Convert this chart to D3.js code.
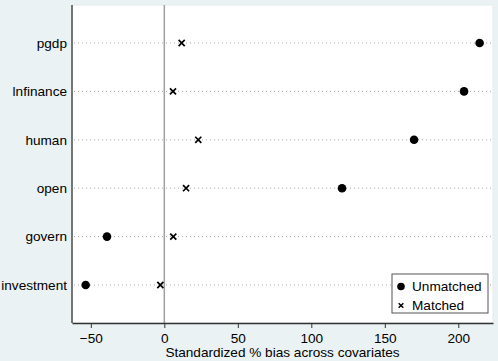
<!DOCTYPE html>
<html>
<head>
<meta charset="utf-8">
<script src="https://cdn.jsdelivr.net/npm/d3@7"></script>
<style>
    body { margin: 0; background: #eaf2f3; }
    svg { display: block; }
    text { font-family: "Liberation Sans", Arial, sans-serif; fill: #000; }
</style>
</head>
<body>
<svg id="chart" width="498" height="361"></svg>
<script>
// covariates, top to bottom
var covariates = ['pgdp', 'lnfinance', 'human', 'open', 'govern', 'investment'];
var unmatched = [214.5, 203.9, 169.9, 120.9, -39.0, -53.5];
var matched = [11.8, 5.9, 23.1, 14.8, 6.1, -2.7];
var xTicks = [-50, 0, 50, 100, 150, 200];

var width = 498;
var height = 361;
var margin = { left: 72, right: 5, top: 5, bottom: 38 };
var fontSize = '13.6px';

var svg = d3.select('#chart');

svg.append('rect')
    .attr('width', width)
    .attr('height', height)
    .attr('fill', '#eaf2f3');

var x = d3.scaleLinear()
    .domain([-62.8, 223.6])
    .range([margin.left, width - margin.right]);

var y = d3.scalePoint()
    .domain(covariates)
    .range([margin.top, height - margin.bottom])
    .padding(0.785);

// plot region
svg.append('rect')
    .attr('x', margin.left)
    .attr('y', margin.top)
    .attr('width', width - margin.left - margin.right)
    .attr('height', height - margin.top - margin.bottom)
    .attr('fill', '#fff')
    .attr('stroke', '#e2ecee')
    .attr('stroke-width', 1);

// dotted row lines
svg.append('g')
    .selectAll('line')
    .data(covariates)
    .enter()
    .append('line')
    .attr('x1', margin.left + 2)
    .attr('x2', width - margin.right)
    .attr('y1', function (d) { return y(d); })
    .attr('y2', function (d) { return y(d); })
    .attr('stroke', '#a8a8a8')
    .attr('stroke-width', 1)
    .attr('stroke-dasharray', '1,3');

// zero line
svg.append('line')
    .attr('x1', x(0))
    .attr('x2', x(0))
    .attr('y1', margin.top)
    .attr('y2', height - margin.bottom)
    .attr('stroke', '#a0a0a0')
    .attr('stroke-width', 1.5);

// x axis
var xAxis = svg.append('g')
    .attr('transform', 'translate(0,' + (height - margin.bottom) + ')')
    .call(d3.axisBottom(x).tickValues(xTicks).tickSize(5).tickPadding(5).tickSizeOuter(0));
xAxis.select('.domain').attr('stroke', '#333').attr('stroke-width', 1.3);
xAxis.selectAll('.tick line').attr('stroke', '#333');
xAxis.selectAll('.tick text')
    .style('font-family', '"Liberation Sans", Arial, sans-serif')
    .style('font-size', fontSize)
    .attr('fill', '#000');

// y axis
var yAxis = svg.append('g')
    .attr('transform', 'translate(' + margin.left + ',0)')
    .call(d3.axisLeft(y).tickSize(0).tickPadding(5));
yAxis.select('.domain')
    .attr('d', 'M0,' + margin.top + 'V' + (height - margin.bottom))
    .attr('stroke', '#333')
    .attr('stroke-width', 1.3);
yAxis.selectAll('.tick text')
    .style('font-family', '"Liberation Sans", Arial, sans-serif')
    .style('font-size', fontSize)
    .attr('fill', '#000');

svg.append('text')
    .attr('x', (margin.left + width - margin.right) / 2)
    .attr('y', 357)
    .attr('text-anchor', 'middle')
    .style('font-size', fontSize)
    .text('Standardized % bias across covariates');

var cross = d3.symbol().type(d3.symbolX).size(26);

// unmatched points
svg.append('g')
    .selectAll('circle')
    .data(covariates)
    .enter()
    .append('circle')
    .attr('cx', function (d, i) { return x(unmatched[i]); })
    .attr('cy', function (d) { return y(d); })
    .attr('r', 4.3)
    .attr('fill', '#000');

// matched points
svg.append('g')
    .selectAll('path')
    .data(covariates)
    .enter()
    .append('path')
    .attr('d', cross)
    .attr('transform', function (d, i) {
        return 'translate(' + x(matched[i]) + ',' + y(d) + ')';
    })
    .attr('fill', 'none')
    .attr('stroke', '#000')
    .attr('stroke-width', 1.7);

// legend
var legend = svg.append('g').attr('transform', 'translate(392,274)');
legend.append('rect')
    .attr('width', 96)
    .attr('height', 39)
    .attr('fill', '#fff')
    .attr('stroke', '#555')
    .attr('stroke-width', 1);
legend.append('circle')
    .attr('cx', 9)
    .attr('cy', 12.5)
    .attr('r', 3.8)
    .attr('fill', '#000');
legend.append('path')
    .attr('d', d3.symbol().type(d3.symbolX).size(16))
    .attr('transform', 'translate(9,31.5)')
    .attr('fill', 'none')
    .attr('stroke', '#000')
    .attr('stroke-width', 1.5);
legend.append('text')
    .attr('x', 20)
    .attr('y', 17)
    .style('font-size', fontSize)
    .text('Unmatched');
legend.append('text')
    .attr('x', 20)
    .attr('y', 36)
    .style('font-size', fontSize)
    .text('Matched');
</script>
</body>
</html>
